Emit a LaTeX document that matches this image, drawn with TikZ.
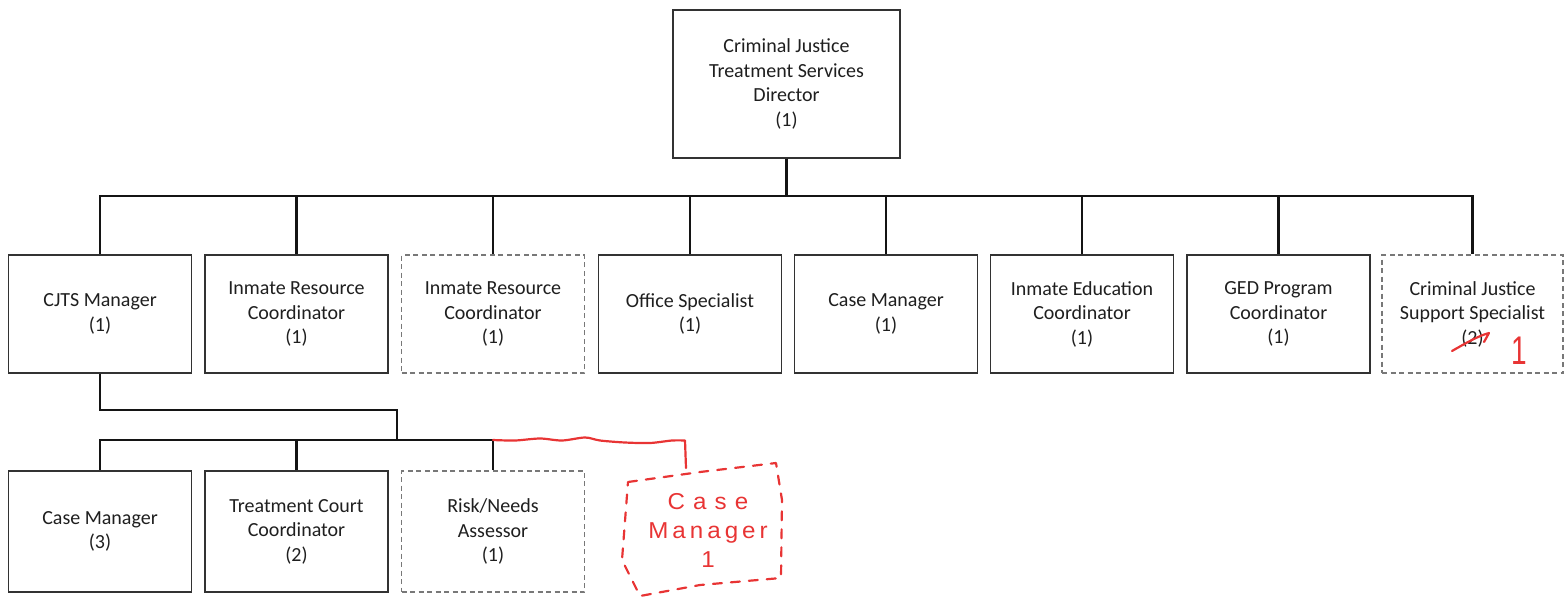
\documentclass[tikz,border=0pt]{standalone}
\usepackage{fontspec}
\setmainfont{Carlito}
\newfontfamily\handfont{Liberation Sans}
\usetikzlibrary{calc}
\definecolor{boxline}{RGB}{50,50,50}
\definecolor{dashline}{RGB}{120,120,120}
\definecolor{pen}{RGB}{232,52,52}
\begin{document}
\begin{tikzpicture}[x=1pt,y=-1pt,
  role/.style={draw=boxline, line width=1.5pt, fill=white, minimum width=183pt, minimum height=118pt, align=center, font=\fontsize{20}{24.5}\selectfont, text=black!88, inner sep=2pt},
  vacant/.style={role, draw=dashline, dash pattern=on 5pt off 3.5pt},
  link/.style={draw=black!92, line width=2.2pt},
  ink/.style={draw=pen, line width=2.2pt, line cap=round, line join=round},
  handtext/.style={text=pen, font=\handfont\fontsize{23}{32}\selectfont, align=center, inner sep=0pt}]
\useasboundingbox (0,0) rectangle (1564,603);
% top
\node[role, minimum width=227pt, minimum height=148pt] (dir) at (786.5,84) {Criminal Justice\\Treatment Services\\Director\\(1)};
% second row
\node[role]   (cjts) at (100,314)   {CJTS Manager\\(1)};
\node[role]   (irc1) at (296.5,314) {Inmate Resource\\Coordinator\\(1)};
\node[vacant] (irc2) at (493,314)   {Inmate Resource\\Coordinator\\(1)};
\node[role]   (off)  at (690,314)   {Office Specialist\\(1)};
\node[role]   (cm)   at (886,314)   {Case Manager\\(1)};
\node[role]   (iec)  at (1082,314)  {Inmate Education\\Coordinator\\(1)};
\node[role]   (ged)  at (1278.5,314){GED Program\\Coordinator\\(1)};
\node[vacant, minimum width=181pt] (cjss) at (1472.5,314) {Criminal Justice\\Support Specialist\\(2)};
% third row
\node[role, minimum height=121pt]   (cm3) at (100,531.5)   {Case Manager\\(3)};
\node[role, minimum height=121pt]   (tcc) at (296.5,531.5) {Treatment Court\\Coordinator\\(2)};
\node[vacant, minimum height=121pt] (rna) at (493,531.5)   {Risk/Needs\\Assessor\\(1)};
% connectors
\coordinate (busA) at (787,196);
\coordinate (j1) at (397,410);
\coordinate (j2) at (397,440);
\foreach \n in {cjts,irc1,irc2,off,cm,iec,ged,cjss}
  \draw[link] (dir.south) -- (dir.south |- busA) -| (\n.north);
\draw[link] (cjts.south) |- (j1) -- (j2);
\foreach \n in {cm3,tcc,rna}
  \draw[link] (j2) -| (\n.north);
% handwritten annotations
\node[handtext, xscale=1.05] (newcm) at (708,530) {C\,\,a\,\,s\,\,e\\[-3pt]M\,a\,n\,a\,g\,e\,r\\[-3pt]1};
\coordinate (newtop) at (686,468);
\draw[ink] plot[smooth] coordinates {(rna.north |- j2) (515,440.5) (540,438.5) (562,440.5) (585,437.5) (600,440.5) (625,442.5) (650,443) (672,440.5) (685,440.5)} -- (newtop);
\draw[ink, dash pattern=on 9pt off 9pt] (628,482) -- (700,472) -- (776,463) -- (782,500) -- (781,578) -- (700,585) -- (640,596) -- (622,560) -- cycle;
\draw[ink] (1452,351) .. controls (1466,343) and (1478,336) .. (1489,333) -- (1484,342);
\node[text=pen, font=\handfont\fontsize{40}{40}\selectfont, inner sep=0pt, xscale=0.7] (one) at (1519,351) {1};
\end{tikzpicture}
\end{document}
